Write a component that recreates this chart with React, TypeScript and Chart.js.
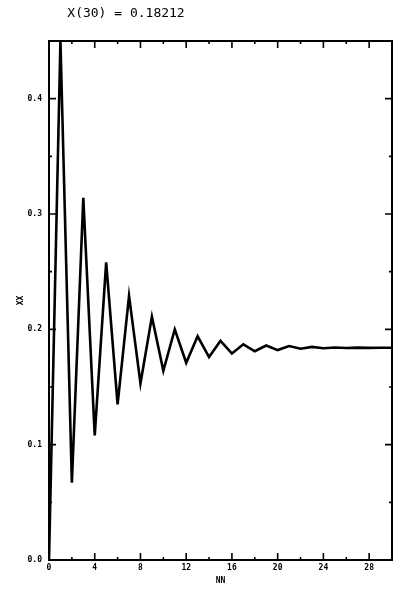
import React, { useEffect, useRef } from "react";
import { Chart, registerables } from "chart.js";

Chart.register(...registerables);

const steps: number[] = Array.from({ length: 31 }, (_, i) => i);
const xValues: number[] = [
  0.0, 0.45, 0.067, 0.314, 0.108, 0.258, 0.135, 0.229, 0.153, 0.211, 0.164,
  0.2, 0.171, 0.194, 0.176, 0.19, 0.179, 0.187, 0.181, 0.186, 0.182,
  0.1855, 0.1832, 0.1848, 0.1836, 0.1843, 0.1838, 0.1841, 0.1839, 0.184, 0.184,
];
const xTickLabels: number[] = [0, 4, 8, 12, 16, 20, 24, 28];
const yTickLabels: number[] = [0.0, 0.1, 0.2, 0.3, 0.4];
const xMinorTicks: number[] = [2, 6, 10, 14, 18, 22, 26, 30];
const yMinorTicks: number[] = [0.05, 0.15, 0.25, 0.35, 0.45];
const titleText = "X(30) = 0.18212";
const xAxisTitle = "NN";
const yAxisTitle = "XX";

const framePlugin = {
  id: "frame",
  afterDatasetsDraw(chart: any) {
    const { ctx, chartArea, scales } = chart;
    const { left, right, top, bottom } = chartArea;
    ctx.save();
    ctx.strokeStyle = "#000";
    ctx.lineWidth = 2;
    ctx.strokeRect(left, top, right - left, bottom - top);
    ctx.lineWidth = 1.6;
    const xs = scales.x;
    const ys = scales.y;
    const drawX = (v: number, len: number) => {
      const px = xs.getPixelForValue(v);
      ctx.beginPath();
      ctx.moveTo(px, bottom);
      ctx.lineTo(px, bottom - len);
      ctx.moveTo(px, top);
      ctx.lineTo(px, top + len);
      ctx.stroke();
    };
    const drawY = (v: number, len: number) => {
      const py = ys.getPixelForValue(v);
      ctx.beginPath();
      ctx.moveTo(left, py);
      ctx.lineTo(left + len, py);
      ctx.moveTo(right, py);
      ctx.lineTo(right - len, py);
      ctx.stroke();
    };
    xTickLabels.forEach((v) => drawX(v, 7));
    xMinorTicks.forEach((v) => drawX(v, 3));
    yTickLabels.forEach((v) => drawY(v, 7));
    yMinorTicks.forEach((v) => drawY(v, 3));
    // title
    ctx.fillStyle = "#000";
    ctx.font = "13px 'DejaVu Sans Mono'";
    ctx.textAlign = "center";
    ctx.textBaseline = "middle";
    ctx.fillText(titleText, 126, 14);
    ctx.restore();
  },
};

export default function App() {
  const ref = useRef<HTMLCanvasElement | null>(null);
  useEffect(() => {
    document.body.style.margin = "0";
    if (!ref.current) return;
    const chart = new Chart(ref.current, {
      type: "line",
      data: {
        datasets: [
          {
            data: steps.map((s, i) => ({ x: s, y: xValues[i] })),
            borderColor: "#000",
            borderWidth: 2.6,
            pointRadius: 0,
            tension: 0,
            fill: false,
          },
        ],
      },
      options: {
        animation: false,
        responsive: true,
        maintainAspectRatio: false,
        layout: { padding: { top: 41, right: 13, left: 0, bottom: 0 } },
        plugins: { legend: { display: false }, tooltip: { enabled: false }, title: { display: false } },
        scales: {
          x: {
            type: "linear",
            min: 0,
            max: 30,
            grid: { display: false, drawTicks: false },
            border: { display: false },
            afterBuildTicks: (scale: any) => {
              scale.ticks = xTickLabels.map((v) => ({ value: v }));
            },
            afterFit: (scale: any) => {
              scale.height = 40;
            },
            ticks: {
              padding: 3,
              color: "#000",
              font: { family: "'DejaVu Sans Mono'", size: 8, weight: "bold" },
              maxRotation: 0,
              autoSkip: false,
              callback: (v: any) => String(v),
            },
            title: {
              display: true,
              text: xAxisTitle,
              color: "#000",
              font: { family: "'DejaVu Sans Mono'", size: 8, weight: "bold" },
              padding: { top: 14, bottom: 14 },
            },
          },
          y: {
            type: "linear",
            min: 0,
            max: 0.45,
            grid: { display: false, drawTicks: false },
            border: { display: false },
            afterBuildTicks: (scale: any) => {
              scale.ticks = yTickLabels.map((v) => ({ value: v }));
            },
            afterFit: (scale: any) => {
              scale.width = 49;
            },
            ticks: {
              padding: 7,
              color: "#000",
              font: { family: "'DejaVu Sans Mono'", size: 8, weight: "bold" },
              autoSkip: false,
              callback: (v: any) => Number(v).toFixed(1),
            },
            title: {
              display: true,
              text: yAxisTitle,
              color: "#000",
              font: { family: "'DejaVu Sans Mono'", size: 8, weight: "bold" },
              padding: { top: 16, bottom: 16 },
            },
          },
        },
      },
      plugins: [framePlugin],
    });
    return () => chart.destroy();
  }, []);
  return (
    <div style={{ position: "absolute", left: 0, top: 0, width: 405, height: 600, background: "#fff" }}>
      <canvas ref={ref} />
    </div>
  );
}
